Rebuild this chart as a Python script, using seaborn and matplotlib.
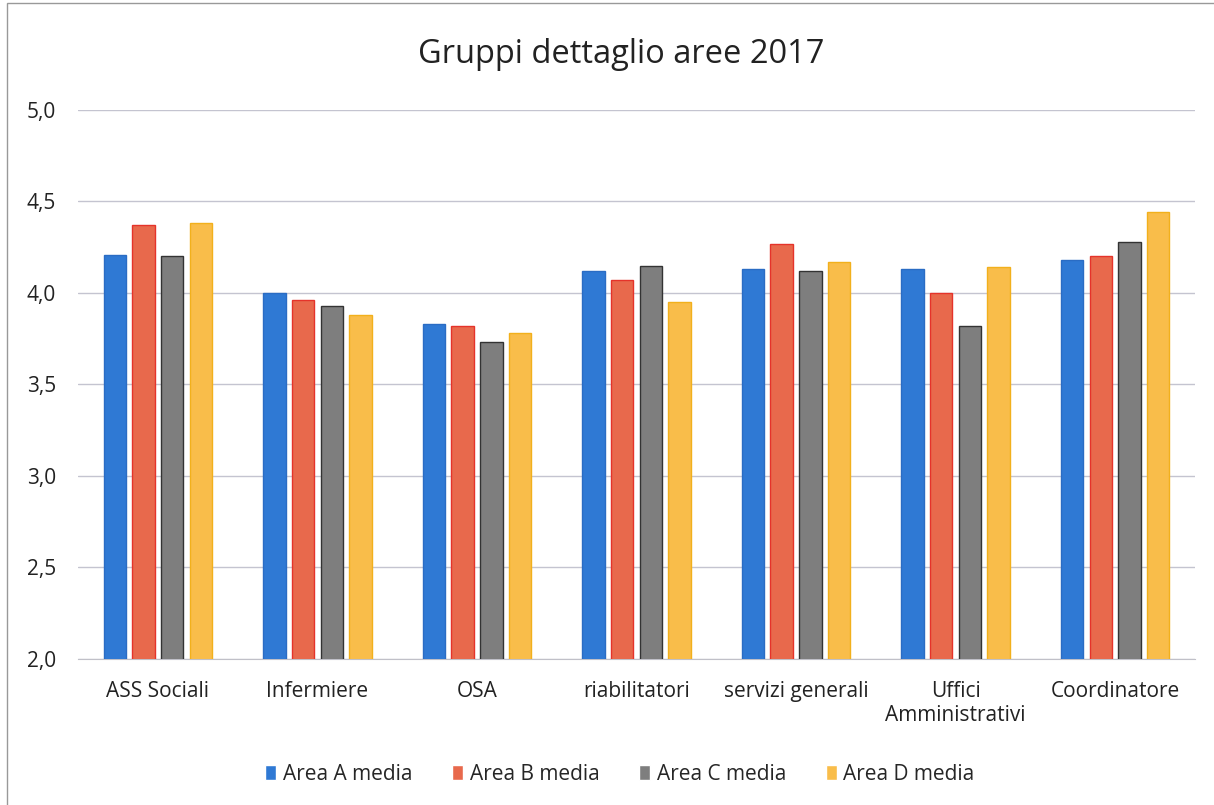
import matplotlib
matplotlib.use("Agg")
import matplotlib.pyplot as plt
import numpy as np
import pandas as pd
import seaborn as sns

# data
categories = ["ASS Sociali", "Infermiere", "OSA", "riabilitatori",
              "servizi generali", "Uffici\nAmministrativi", "Coordinatore"]
series = ["Area A media", "Area B media", "Area C media", "Area D media"]
area_a = [4.21, 4.00, 3.83, 4.12, 4.13, 4.13, 4.18]
area_b = [4.37, 3.96, 3.82, 4.07, 4.27, 4.00, 4.20]
area_c = [4.20, 3.93, 3.73, 4.15, 4.12, 3.82, 4.28]
area_d = [4.385, 3.88, 3.78, 3.95, 4.17, 4.14, 4.44]

colors = ["#2f79d4", "#e8694c", "#7e7e7e", "#f9bd4a"]
edges = ["#2a6cc4", "#e5332a", "#333333", "#f2b01c"]

df = pd.DataFrame({
    "cat": categories * 4,
    "serie": np.repeat(series, len(categories)),
    "val": area_a + area_b + area_c + area_d,
})

sns.set_style("white")
plt.rcParams["font.family"] = ["Open Sans", "DejaVu Sans"]

fig = plt.figure(figsize=(12.14, 8.05), dpi=100)
ax = fig.add_axes([0.0643, 0.1814, 0.920, 0.682])

sns.barplot(data=df, x="cat", y="val", hue="serie", palette=colors,
            saturation=1, width=0.72, gap=0.22, ax=ax, legend=True, zorder=3)

# edge colors per series
for cont, ec in zip(ax.containers, edges):
    for p in cont:
        p.set_edgecolor(ec)
        p.set_linewidth(1.0)

ax.set_ylim(2.0, 5.0)
ax.set_yticks(np.arange(2.0, 5.01, 0.5))
ax.set_yticklabels([f"{v:.1f}".replace(".", ",") for v in np.arange(2.0, 5.01, 0.5)])
ax.yaxis.grid(True, color="#c4c4d0", linewidth=1.0, zorder=0)
ax.set_axisbelow(True)
for s in ["top", "right", "left"]:
    ax.spines[s].set_visible(False)
ax.spines["bottom"].set_color("#c0c0c8")
ax.tick_params(axis="both", length=0, labelsize=15, colors="#222222")
ax.tick_params(axis="y", pad=16)
ax.tick_params(axis="x", pad=16)
ax.set_xlabel("")
ax.set_ylabel("")

fig.text(0.512, 0.932, "Gruppi dettaglio aree 2017", ha="center", va="center",
         fontsize=23.5, color="#222222")

leg = ax.legend(loc="center", bbox_to_anchor=(0.485, -0.21), ncol=4, frameon=False,
                fontsize=15, handlelength=0.55, handleheight=0.8,
                handletextpad=0.3, columnspacing=1.9)

# thin frame around the chart
fig.patches.append(plt.Rectangle((0.006, -0.01), 1.1, 1.006, transform=fig.transFigure,
                                 fill=False, edgecolor="#999999", linewidth=1.0))

fig.savefig("out.png", dpi=100)
